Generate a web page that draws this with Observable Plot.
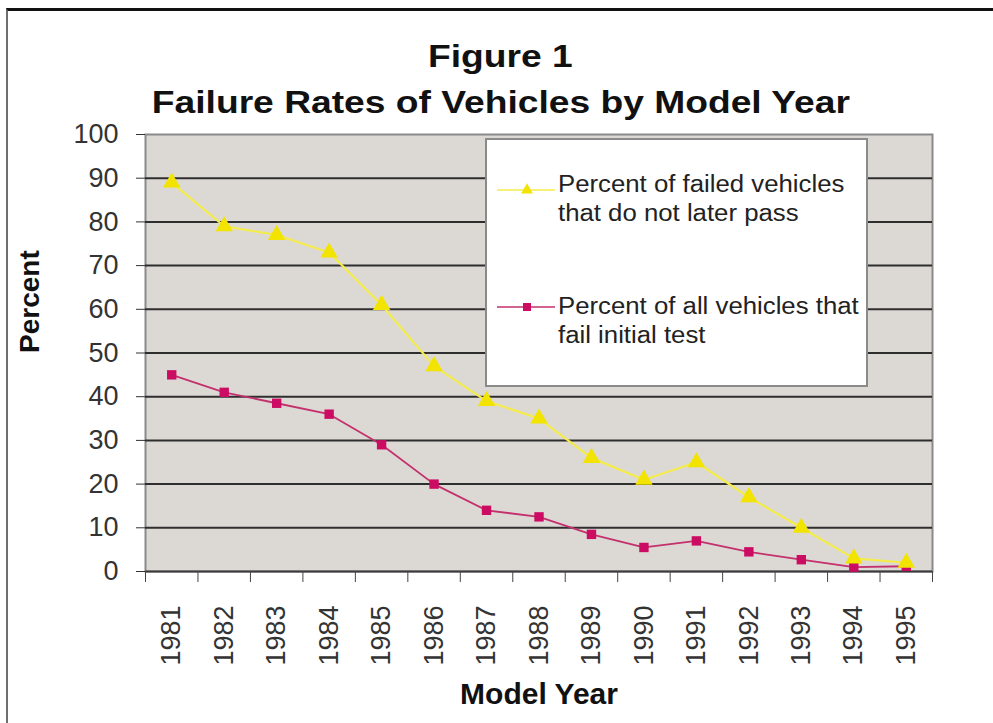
<!DOCTYPE html>
<html>
<head>
<meta charset="utf-8">
<script src="https://cdn.jsdelivr.net/npm/d3@7"></script>
<script src="https://cdn.jsdelivr.net/npm/@observablehq/plot@0.6"></script>
<style>
  body { margin: 0; background: #fff; font-family: "Liberation Sans", Arial, sans-serif; }
  #wrap { position: relative; width: 993px; height: 723px; overflow: hidden; background: #fff; }
  #border { position: absolute; left: 6px; top: 8px; right: -4px; bottom: -4px; border-top: 3px solid #111; border-left: 2px solid #6f6f6f; pointer-events: none; }
  .tline { position: absolute; left: 4px; width: 993px; text-align: center; font-weight: bold; font-size: 31px; line-height: 31px; color: #111; }
  .tline span { display: inline-block; transform: scaleX(1.2); }
  #chart { position: absolute; left: 0; top: 120px; }
  #legend { position: absolute; left: 485px; top: 138px; width: 379px; height: 245px; background: #fff; border: 2px solid #8a8a8a; }
  .entry { position: absolute; left: 71px; font-size: 23px; line-height: 29px; color: #222; transform: scaleX(1.12); transform-origin: left top; white-space: nowrap; }
  .sw { position: absolute; left: 10px; }
</style>
</head>
<body>
<div id="wrap">
  <div class="tline" style="top:41px"><span id="t1"></span></div>
  <div class="tline" style="top:87px"><span id="t2"></span></div>
  <div id="chart"></div>
  <div id="legend"></div>
  <div id="border"></div>
</div>
<script>
// ---- data ----
const years = [1981, 1982, 1983, 1984, 1985, 1986, 1987, 1988, 1989, 1990, 1991, 1992, 1993, 1994, 1995];
const failedNotLaterPass = [89, 79, 77, 73, 61, 47, 39, 35, 26, 21, 25, 17, 10, 3, 2];
const failInitialTest = [45, 41, 38.5, 36, 29, 20, 14, 12.5, 8.5, 5.5, 7, 4.5, 2.7, 1, 1.2];
const seriesNames = ["Percent of failed vehicles\nthat do not later pass", "Percent of all vehicles that\nfail initial test"];
const yTicks = [0, 10, 20, 30, 40, 50, 60, 70, 80, 90, 100];
const titleLines = ["Figure 1", "Failure Rates of Vehicles by Model Year"];
const yTitle = "Percent";
const xTitle = "Model Year";

// ---- styles ----
const yellowLine = "#f3ec4a", yellowDot = "#f2e400";
const pinkLine = "#c4306c", pinkDot = "#cc0b63";

document.getElementById("t1").textContent = titleLines[0];
document.getElementById("t2").textContent = titleLines[1];

const rowsA = years.map((year, i) => ({year, value: failedNotLaterPass[i], series: seriesNames[0]}));
const rowsB = years.map((year, i) => ({year, value: failInitialTest[i], series: seriesNames[1]}));
const boundaries = years.map(y => y - 0.5).concat([years[years.length - 1] + 0.5]);

const chart = Plot.plot({
  width: 993,
  height: 603,
  marginTop: 14,
  marginBottom: 152,
  marginLeft: 145,
  marginRight: 61,
  style: {fontFamily: "Liberation Sans, Arial, sans-serif", background: "transparent", overflow: "visible"},
  x: {type: "linear", domain: [boundaries[0], boundaries[boundaries.length - 1]]},
  y: {domain: [0, 100]},
  marks: [
    Plot.frame({fill: "#dcd9d5", stroke: "#8a8a8a", strokeWidth: 2}),
    Plot.ruleY(yTicks.filter(d => d > 0 && d < 100), {stroke: "#2e2e2e", strokeWidth: 2}),
    Plot.ruleY([0], {stroke: "#3a3a3a", strokeWidth: 2}),
    Plot.axisY(yTicks, {tickSize: 9, tickPadding: 18, fontSize: 27, color: "#333", label: null}),
    Plot.axisX(boundaries, {tickSize: 11, tickFormat: () => "", color: "#444", label: null}),
    Plot.axisX(years, {tickSize: 0, tickPadding: 34, tickRotate: -90, fontSize: 27, color: "#333", tickFormat: d => String(d), label: null}),
    Plot.line(rowsB, {x: "year", y: "value", stroke: pinkLine, strokeWidth: 1.8}),
    Plot.dot(rowsB, {x: "year", y: "value", symbol: "square", r: 5.3, fill: pinkDot}),
    Plot.line(rowsA, {x: "year", y: "value", stroke: yellowLine, strokeWidth: 2.2}),
    Plot.dot(rowsA, {x: "year", y: "value", symbol: "triangle", r: 6.5, fill: yellowDot}),
    Plot.text([yTitle], {text: d => d, frameAnchor: "left", dx: -115, rotate: -90, fontSize: 28, fontWeight: "bold", fill: "#111"}),
    Plot.text([xTitle], {text: d => d, frameAnchor: "bottom", dy: 132, fontSize: 30, fontWeight: "bold", fill: "#111"})
  ]
});
document.getElementById("chart").appendChild(chart);

// ---- legend (HTML overlay) ----
const legend = document.getElementById("legend");
const legendItems = [
  {name: seriesNames[0], line: yellowLine, dot: yellowDot, sym: "triangle", top: 30, swTop: 50},
  {name: seriesNames[1], line: pinkLine, dot: pinkDot, sym: "square", top: 152, swTop: 167}
];
legendItems.forEach(it => {
  const sw = document.createElementNS("http://www.w3.org/2000/svg", "svg");
  sw.setAttribute("class", "sw");
  sw.setAttribute("width", 60);
  sw.setAttribute("height", 20);
  sw.style.top = (it.swTop - 10) + "px";
  const ln = document.createElementNS("http://www.w3.org/2000/svg", "line");
  ln.setAttribute("x1", 0); ln.setAttribute("x2", 58); ln.setAttribute("y1", 10); ln.setAttribute("y2", 10);
  ln.setAttribute("stroke", it.line); ln.setAttribute("stroke-width", 1.5);
  sw.appendChild(ln);
  const mk = document.createElementNS("http://www.w3.org/2000/svg", "path");
  const sym = it.sym === "triangle" ? d3.symbolTriangle : d3.symbolSquare;
  mk.setAttribute("d", d3.symbol(sym, it.sym === "triangle" ? 60 : 64)());
  mk.setAttribute("transform", "translate(30,10)");
  mk.setAttribute("fill", it.dot);
  sw.appendChild(mk);
  legend.appendChild(sw);
  const tx = document.createElement("div");
  tx.className = "entry";
  tx.style.top = it.top + "px";
  tx.innerHTML = it.name.split("\n").map(s => s.replace(/&/g, "&amp;")).join("<br>");
  legend.appendChild(tx);
});
</script>
</body>
</html>
